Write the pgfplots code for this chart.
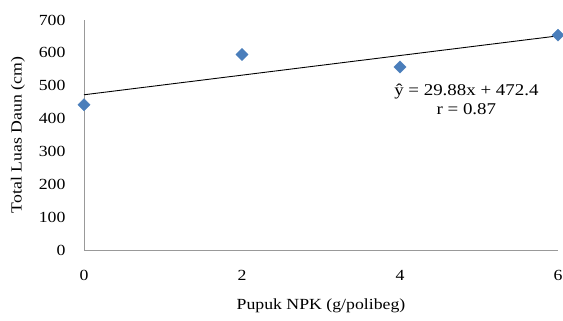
\documentclass[border=0pt]{standalone}
\usepackage{fontspec}
\setmainfont[FakeStretch=1.15]{Liberation Serif}
\usepackage{pgfplots}
\pgfplotsset{compat=1.18}
\definecolor{mk}{RGB}{74,126,187}
\begin{document}
\begin{tikzpicture}
\begin{axis}[
  scale only axis,
  width=474bp, height=230bp,
  xmin=0, xmax=6, ymin=0, ymax=700,
  axis x line*=bottom, axis y line*=left,
  axis line style={gray!80, line width=0.8pt, -},
  xtick={0,2,4,6}, ytick={0,100,...,700},
  major tick length=0pt,
  tick label style={font=\fontsize{15.5}{17}\selectfont},
  /pgf/number format/assume math mode=true,
  xticklabel style={yshift=-17bp},
  yticklabel style={xshift=-15bp},
  xlabel={Pupuk NPK (g/polibeg)},
  ylabel={Total Luas Daun (cm)},
  label style={font=\fontsize{15.5}{17}\selectfont},
  xlabel style={at={(axis description cs:0.5,0)}, anchor=center, yshift=-56bp},
  ylabel style={at={(axis description cs:0,0.5)}, anchor=center, yshift=66bp},
  clip=false,
]
\addplot[only marks, mark=square*, mark size=4.3pt, mark options={rotate=45, fill=mk, draw=mk}] coordinates {
  (0,442) (2,595) (4,557) (6,654)
};
\addplot[black, line width=0.9pt, no marks] coordinates {(0,472.4) (6,651.68)};
\node[align=center, font=\fontsize{16.5}{19}\selectfont, inner sep=0pt] at (axis cs:4.84,458) {ŷ = 29.88x + 472.4\\r = 0.87};
\coordinate (bl) at (rel axis cs:0,0);
\coordinate (tr) at (rel axis cs:1,1);
\end{axis}
\pgfresetboundingbox
\useasboundingbox ([xshift=-84bp,yshift=-70bp]bl) rectangle ([xshift=5bp,yshift=20bp]tr);
\end{tikzpicture}
\end{document}
